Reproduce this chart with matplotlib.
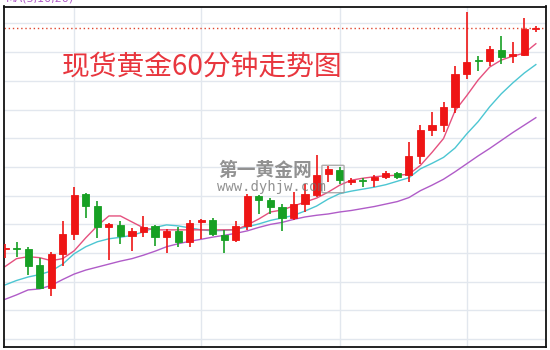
import matplotlib
matplotlib.use("Agg")
import matplotlib.pyplot as plt
from matplotlib.patches import FancyBboxPatch
import numpy as np

plt.rcParams['font.family'] = ['Noto Sans CJK SC', 'DejaVu Sans']

# ---- data (spot gold, 60-minute candles) ----
opens  = [1259.1, 1259.2, 1259.1, 1257.5, 1255.1, 1258.6, 1260.6, 1264.6, 1263.4, 1261.3,
          1261.5, 1260.4, 1260.8, 1261.4, 1260.3, 1260.9, 1259.8, 1261.8, 1262.0, 1260.5,
          1260.0, 1261.4, 1264.4, 1264.0, 1263.3, 1262.2, 1263.6, 1264.5, 1266.6, 1267.0,
          1265.8, 1266.0, 1266.0, 1266.3, 1266.7, 1266.5, 1268.4, 1271.1, 1271.6, 1273.4,
          1276.7, 1278.1, 1278.0, 1279.1, 1278.5, 1278.6, 1281.2]
highs  = [1259.6, 1259.8, 1259.3, 1258.2, 1258.8, 1261.9, 1265.3, 1264.7, 1263.9, 1261.7,
          1261.9, 1261.2, 1262.4, 1261.5, 1261.1, 1261.3, 1262.0, 1262.1, 1262.2, 1261.0,
          1261.9, 1264.6, 1264.5, 1264.2, 1263.6, 1264.8, 1265.6, 1268.5, 1267.4, 1267.3,
          1266.2, 1266.2, 1266.5, 1266.9, 1266.8, 1269.9, 1271.6, 1272.9, 1273.9, 1277.5,
          1282.9, 1278.5, 1279.5, 1280.5, 1279.9, 1282.3, 1281.5]
lows   = [1258.2, 1258.3, 1256.5, 1255.0, 1254.3, 1257.4, 1260.0, 1262.2, 1260.2, 1258.0,
          1259.6, 1258.9, 1260.3, 1259.4, 1258.7, 1259.3, 1259.3, 1260.1, 1260.4, 1258.7,
          1259.8, 1261.0, 1262.6, 1262.6, 1260.9, 1262.0, 1262.8, 1264.3, 1265.8, 1265.6,
          1265.5, 1265.3, 1265.3, 1266.1, 1266.1, 1265.8, 1267.6, 1270.5, 1270.9, 1272.8,
          1276.2, 1277.0, 1277.5, 1277.7, 1277.8, 1278.5, 1280.9]
closes = [1259.2, 1259.1, 1257.4, 1255.1, 1258.6, 1260.6, 1264.5, 1263.4, 1261.3, 1261.6,
          1260.4, 1260.9, 1261.3, 1260.3, 1260.9, 1259.8, 1261.7, 1262.0, 1260.6, 1260.0,
          1261.4, 1264.4, 1264.0, 1263.3, 1262.2, 1263.6, 1264.6, 1266.5, 1267.1, 1266.0,
          1266.0, 1265.9, 1266.3, 1266.7, 1266.3, 1268.4, 1271.1, 1271.6, 1273.4, 1276.7,
          1277.9, 1278.0, 1279.2, 1278.4, 1278.7, 1281.2, 1281.3]

ma5  = [1257.3, 1258.1, 1258.3, 1258.2, 1257.9, 1258.1, 1258.9, 1260.2, 1261.4, 1262.4,
        1262.4, 1261.8, 1261.2, 1261.0, 1261.0, 1261.0, 1261.0, 1261.0, 1261.0, 1261.0,
        1261.0, 1261.5, 1262.1, 1262.8, 1263.0, 1263.4, 1263.8, 1264.2, 1264.8, 1265.5,
        1266.0, 1266.2, 1266.35, 1266.45, 1266.5, 1266.6, 1267.5, 1268.8, 1270.2, 1273.0,
        1274.5, 1276.1, 1277.4, 1278.1, 1278.5, 1278.8, 1279.75]
ma10 = [1255.45, 1255.9, 1256.25, 1256.5, 1256.85, 1257.55, 1258.6, 1259.3, 1259.8, 1260.1,
        1260.25, 1260.45, 1260.8, 1261.25, 1261.5, 1261.4, 1261.2, 1261.0, 1260.9, 1260.95,
        1261.05, 1261.3, 1261.6, 1261.95, 1262.2, 1262.45, 1262.9, 1263.4, 1264.1, 1264.65,
        1264.9, 1265.1, 1265.3, 1265.55, 1265.9, 1266.25, 1267.15, 1267.7, 1268.3, 1269.25,
        1270.65, 1271.9, 1273.4, 1274.7, 1275.8, 1276.8, 1277.65]
ma20 = [1254.0, 1254.45, 1254.95, 1255.05, 1255.4, 1256.0, 1256.55, 1256.95, 1257.25, 1257.55,
        1257.85, 1258.1, 1258.45, 1258.85, 1259.3, 1259.6, 1259.85, 1260.05, 1260.27, 1260.45,
        1260.65, 1260.9, 1261.25, 1261.55, 1261.75, 1262.05, 1262.3, 1262.47, 1262.6, 1262.8,
        1262.95, 1263.15, 1263.35, 1263.6, 1263.85, 1264.25, 1264.95, 1265.5, 1266.1, 1266.85,
        1267.65, 1268.45, 1269.2, 1270.0, 1270.8, 1271.55, 1272.3]

last_price = 1281.3
title = "现货黄金60分钟走势图"
watermark = "第一黄金网"
watermark_url = "www.dyhjw.com"
ma_label = "MA(5,10,20)"

# ---- figure ----
W, H = 550, 350
fig = plt.figure(figsize=(W / 100, H / 100), dpi=100)
ax = fig.add_axes([3.5 / W, 3.0 / H, (546 - 3.5) / W, (347 - 3.0 - 3.5) / H])
ax.set_facecolor('white')

n = len(opens)
x = np.arange(n)
RED = '#ee1515'
GREEN = '#17a024'

# grid
for gy in 1250 + 2.89 * np.arange(12):
    ax.axhline(gy, color='#e2e7ee', lw=1.0, zorder=0)
for gx in [6, 17, 29, 40]:
    ax.axvline(gx, color='#e2e7ee', lw=1.0, zorder=0)

# moving averages
ax.plot(x, ma20, color='#b05cc8', lw=1.0, zorder=2)
ax.plot(x, ma10, color='#4cc6d2', lw=1.0, zorder=2)
ax.plot(x, ma5, color='#e5507e', lw=1.0, zorder=2)

# candles
o = np.array(opens); c = np.array(closes); hi = np.array(highs); lo = np.array(lows)
cols = [RED if cc >= oo else GREEN for oo, cc in zip(o, c)]
ax.vlines(x, lo, hi, colors=cols, lw=1.2, zorder=3)
bottoms = np.minimum(o, c)
heights = np.maximum(np.abs(c - o), 0.12)
ax.bar(x, heights, bottom=bottoms, width=0.62, color=cols, edgecolor=cols, lw=0.6, zorder=4)

# last price dotted line
ax.axhline(last_price, color='#e0452e', lw=1.0, ls=(0, (1, 2)), zorder=1)

ax.set_xlim(-0.13, 46.88)
ax.set_ylim(1249.2, 1283.5)
ax.set_xticks([]); ax.set_yticks([])
for s in ax.spines.values():
    s.set_color('#111111'); s.set_linewidth(1.3)

# title text
fig.text(62 / W, 1 - 67.5 / H, title, color='#e8363e', fontsize=20,
         ha='left', va='center')

# watermark
fig.text(218 / W, 1 - 170 / H, watermark, color='#6e6e6e', alpha=0.75, fontsize=13.5,
         fontweight='bold', ha='left', va='center', zorder=10)
fig.text(217 / W, 1 - 187.5 / H, watermark_url, color='#6e6e6e', alpha=0.75, fontsize=10,
         family='DejaVu Sans Mono', ha='left', va='center', zorder=10)
box = FancyBboxPatch((323 / W, 1 - 192 / H), 20 / W, 26 / H,
                     boxstyle='round,pad=0.002', transform=fig.transFigure,
                     facecolor='none', edgecolor='#9a9a9a', lw=1.0, alpha=0.8, zorder=10)
fig.patches.append(box)

# indicator label, cropped at the top edge as in the original
fig.text(6 / W, 1 - 1.5 / H, ma_label, color='#b05cc8', fontsize=8,
         ha='left', va='baseline', family='DejaVu Sans')

fig.savefig('out.png', dpi=100)
